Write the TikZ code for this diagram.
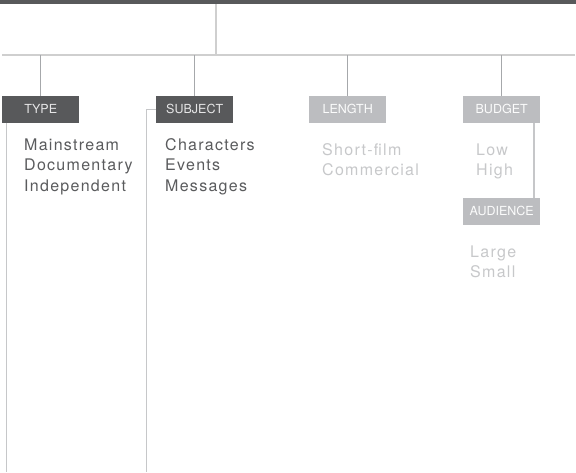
\documentclass[tikz,border=0pt]{standalone}
\usepackage{fontspec}
\setmainfont{TeX Gyre Heros}
\newfontfamily\listfont[LetterSpace=8]{TeX Gyre Heros}
\definecolor{darkgr}{HTML}{58595B}
\definecolor{lightbox}{HTML}{BCBDC0}
\definecolor{dropc}{HTML}{A6A8AB}
\definecolor{hlinec}{HTML}{CFCFCF}
\definecolor{longc}{HTML}{C6C7C9}
\definecolor{lighttxt}{HTML}{C7C8CA}
\definecolor{darktxt}{HTML}{5A5B5D}
\begin{document}
\begin{tikzpicture}[x=1pt,y=-1pt,
  catbox/.style={anchor=north west, minimum width=77pt, minimum height=27pt, inner sep=0pt,
    text height=8.8pt, text depth=0pt, font=\fontsize{12.5}{14}\selectfont},
  darkcat/.style={catbox, fill=darkgr, text=white!85!darkgr},
  lightcat/.style={catbox, fill=lightbox, text=white!96!lightbox},
  itemlist/.style={anchor=base west, inner sep=0pt, align=left,
    font=\listfont\fontsize{16}{20.5}\selectfont},
  darklist/.style={itemlist, text=darktxt},
  lightlist/.style={itemlist, text=lighttxt},
  drop/.style={draw=dropc, line width=1.1pt},
  trunk/.style={draw=hlinec, line width=1.5pt},
  longline/.style={draw=longc, line width=1.2pt}]
\useasboundingbox (0,0) rectangle (576,472);
% top bar
\fill[darkgr] (0,0) rectangle (576,4);
\coordinate (topc) at (216,4);
\coordinate (hl) at (216,55);
\coordinate (hlL) at (2,55);
\coordinate (hlR) at (575,55);
\draw[trunk] (topc) -- (hl);
\draw[trunk] (hlL) -- (hlR);
% category boxes
\node[darkcat] (type) at (2,95.5) {TYPE};
\node[darkcat] (subject) at (156,95.5) {SUBJECT};
\node[lightcat] (length) at (309,95.5) {LENGTH};
\node[lightcat] (budget) at (463,95.5) {BUDGET};
\node[lightcat] (audience) at (463,197.5) {AUDIENCE};
% drops
\foreach \n in {type,subject,length,budget}
  \draw[drop] (\n.north |- hl) -- (\n.north);
% budget to audience
\draw[longline] ([xshift=-6.5pt]budget.south east) -- ([xshift=-6.5pt]audience.north east);
% long lines
\coordinate (tb) at (6.5,472);
\coordinate (sb) at (146.5,472);
\draw[longline] (type.south west -| tb) -- (tb);
\draw[longline] (subject.west) -| (sb);
% lists (base anchor = baseline of last line)
\node[darklist] (typelist) at (24,191) {Mainstream\\Documentary\\Independent};
\node[darklist] (subjlist) at (165,191) {Characters\\Events\\Messages};
\node[lightlist] (lenlist) at (322,175.5) {Short-film\\Commercial};
\node[lightlist] (budlist) at (476,175.5) {Low\\High};
\node[lightlist] (audlist) at (470,277.5) {Large\\Small};
\end{tikzpicture}
\end{document}
